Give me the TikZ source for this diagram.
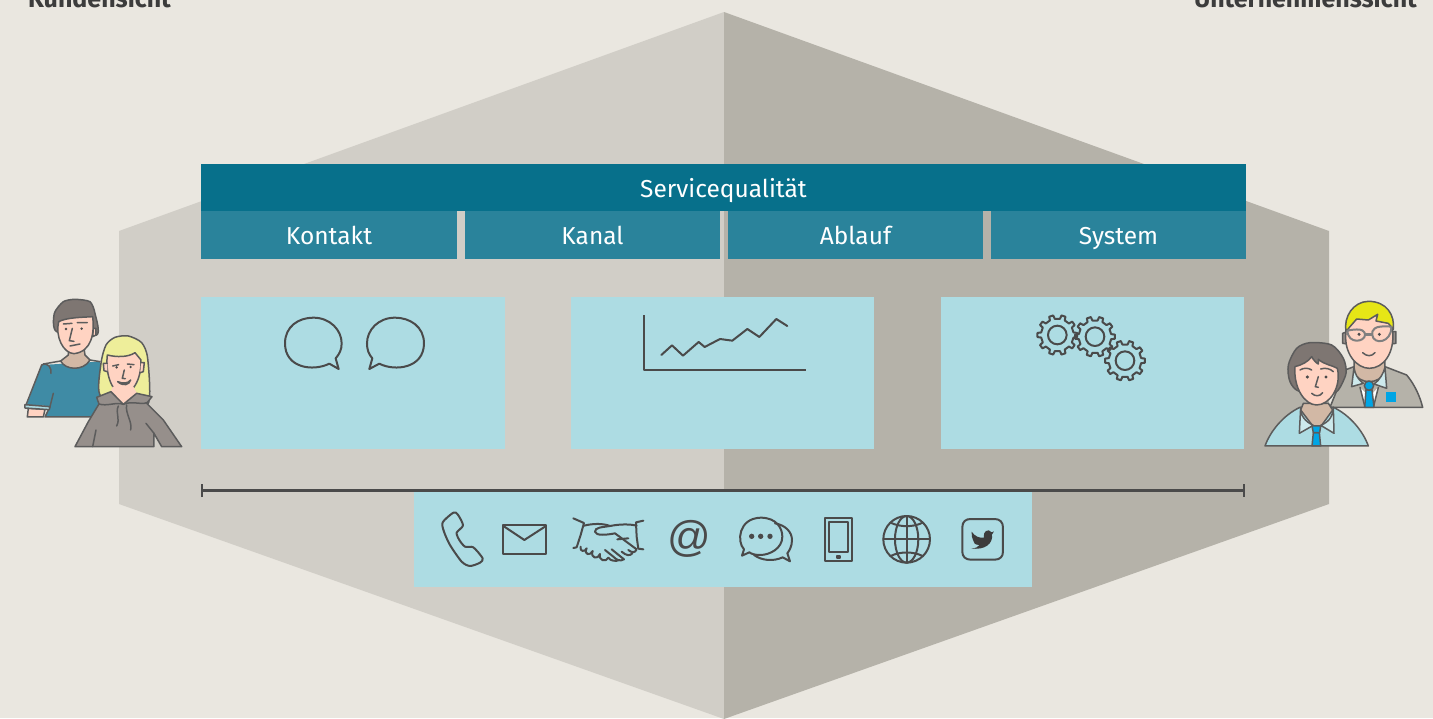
\documentclass[tikz,border=0pt]{standalone}
\usepackage{fontspec}
\setmainfont{Fira Sans}
\newfontfamily\atfont{Liberation Sans}
\usetikzlibrary{arrows.meta}
\definecolor{bgc}{HTML}{EAE7E0}
\definecolor{leftc}{HTML}{D1CEC7}
\definecolor{rightc}{HTML}{B5B2A9}
\definecolor{topc}{HTML}{07708B}
\definecolor{subc}{HTML}{2A839B}
\definecolor{panelc}{HTML}{ADDCE3}
\definecolor{inkc}{HTML}{4A4A4A}
\definecolor{headc}{HTML}{3C3C3C}
\definecolor{tealc}{HTML}{3F8BA5}
\definecolor{paley}{HTML}{EEEE9A}
\definecolor{hoodc}{HTML}{968F8B}
\definecolor{skinc}{HTML}{FFD3C2}
\definecolor{neckc}{HTML}{D2B8A5}
\definecolor{hairg}{HTML}{7E7672}
\definecolor{yelc}{HTML}{E6E616}
\definecolor{tiec}{HTML}{00A5E5}
\definecolor{collc}{HTML}{CDE9EC}
\tikzset{
  box/.style={inner sep=0pt,outer sep=0pt,text=white,text height=19.5pt,text depth=0pt,font=\fontsize{24.5}{24.5}\selectfont},
  topbox/.style={box,fill=topc},
  subbox/.style={box,fill=subc},
  panel/.style={inner sep=0pt,outer sep=0pt,fill=panelc},
  heading/.style={inner sep=0pt,text=headc,font=\fontsize{25}{25}\selectfont\bfseries},
  ico/.style={draw=inkc,line width=2pt,line join=round,line cap=round},
  per/.style={draw=inkc!90,line width=1.5pt,line join=round,line cap=round},
  zoomA/.style={shift={(#1)},x=0.3333pt,y=-0.3333pt},
}
\newcommand{\gearshape}[5]{%
 \draw[ico,shift={(#1,#2)}] (-9:#3) foreach \i in {0,36,...,324}{
   -- (\i-9:#3) -- (\i-6:#4) -- (\i+6:#4) -- (\i+9:#3) } -- cycle;
 \draw[ico] (#1,#2) circle (#5);}
\begin{document}
\begin{tikzpicture}[x=1pt,y=-1pt]
\useasboundingbox (0,0) rectangle (1433,718);
\clip (0,0) rectangle (1433,718);
\fill[bgc] (0,0) rectangle (1433,718);
\fill[leftc] (724,12) -- (119,231) -- (119,504) -- (724,719) -- cycle;
\fill[rightc] (724,12) -- (1329,231) -- (1329,504) -- (724,719) -- cycle;

\node[heading,anchor=base west] (kunden) at (28,7.5) {Kundensicht};
\node[heading,anchor=base east] (unter) at (1417,7.5) {Unternehmenssicht};

\node[topbox,minimum width=1045pt,minimum height=47pt] (sq) at (723.5,187.5) {Servicequalität};
\node[subbox,minimum width=256pt,minimum height=48pt] (kontakt) at (329,235) {Kontakt};
\node[subbox,minimum width=255pt,minimum height=48pt] (kanal) at (592.5,235) {Kanal};
\node[subbox,minimum width=255pt,minimum height=48pt] (ablauf) at (855.5,235) {Ablauf};
\node[subbox,minimum width=255pt,minimum height=48pt] (system) at (1118.5,235) {System};

\node[panel,minimum width=304pt,minimum height=152pt] (p1) at (353,373) {};
\node[panel,minimum width=303pt,minimum height=152pt] (p2) at (722.5,373) {};
\node[panel,minimum width=303pt,minimum height=152pt] (p3) at (1092.5,373) {};
\node[panel,minimum width=618pt,minimum height=95pt] (p4) at (723,539.5) {};

\coordinate (barl) at (201,490.5);
\coordinate (barr) at (1245,490.5);
\draw[draw=inkc,line width=3pt,{Bar[width=13pt,line width=2pt]}-{Bar[width=13pt,line width=2pt]}] (barl) -- (barr);

% speech bubbles
\begin{scope}[zoomA={270,300}]
\draw[ico] (178,191) .. controls (130,215) and (45,205) .. (45,130) .. controls (45,80) and (85,53) .. (130,53) .. controls (180,53) and (215,90) .. (215,130) .. controls (215,150) and (208,162) .. (197,175) -- (206,207) -- cycle;
\draw[ico] (328,191) .. controls (375,215) and (462,205) .. (462,130) .. controls (462,80) and (420,53) .. (375,53) .. controls (325,53) and (291,90) .. (291,130) .. controls (291,150) and (296,162) .. (307,175) -- (298,207) -- cycle;
\end{scope}
% chart
\begin{scope}[zoomA={630,300}]
\draw[ico,line cap=butt] (41,45) -- (41,211) -- (527,211);
\draw[ico] (94,165) -- (126,136) -- (159,167) -- (206,126) -- (224,141) -- (270,117) -- (307,122) -- (352,87) -- (388,111) -- (439,57) -- (472,78);
\end{scope}
% gears
\begin{scope}[zoomA={1025,305}]
\gearshape{97}{90}{49}{60}{28}
\gearshape{210}{95}{49}{60}{28}
\gearshape{300}{167}{49}{60}{28}
\end{scope}

% channel icons, left half
\begin{scope}[zoomA={420,490}]
\draw[ico] plot[smooth cycle,tension=0.45] coordinates {(68,97) (100,68) (113,73) (129,106) (110,128) (118,150) (135,170) (160,172) (188,205) (180,218) (150,228) (125,215) (90,165) (72,125)};
\draw[ico,line cap=butt] (250,105) rectangle (378,192);
\draw[ico] (250,108) -- (313,150) -- (378,108);
% handshake
\draw[ico] (460,85) -- (492,99) -- (482,135) -- (470,172) -- (460,174);
\draw[ico] (670,92) -- (648,97) -- (650,140) -- (655,176) -- (670,178);
\draw[ico] (492,107) .. controls (520,100) and (550,100) .. (570,108) .. controls (600,102) and (630,102) .. (650,107);
\draw[ico] (570,108) .. controls (545,112) and (525,112) .. (525,125) .. controls (527,138) and (560,135) .. (585,130) -- (650,178) .. controls (645,190) and (635,188) .. (625,180);
\draw[ico] (637,190) .. controls (630,198) and (620,198) .. (605,185) (575,178) -- (612,208) .. controls (600,215) and (590,210) .. (580,200) -- (555,180);
\draw[ico] (592,148) -- (625,145);
\draw[ico] (482,170) .. controls (478,185) and (495,187) .. (500,175) .. controls (490,195) and (512,198) .. (518,183) .. controls (510,205) and (535,210) .. (540,192) .. controls (535,212) and (558,218) .. (565,203) .. controls (570,213) and (590,215) .. (597,210);
\node[inner sep=0pt,text=inkc,font=\atfont\fontsize{43}{43}\selectfont] (at) at (808,147) {@};
\end{scope}
% channel icons, right half
\begin{scope}[zoomA={720,490}]
\draw[ico] (66,197) -- (72,178) .. controls (50,155) and (55,85) .. (122,83) .. controls (170,83) and (187,115) .. (187,140) .. controls (187,175) and (150,195) .. (120,195) .. controls (105,195) and (95,192) .. (88,187) -- cycle;
\draw[ico] (165,100) .. controls (195,105) and (216,125) .. (216,150) .. controls (216,170) and (207,183) .. (202,190) -- (210,214) -- (188,202) .. controls (160,215) and (125,212) .. (102,195);
\fill[inkc] (95,139) circle (8) (122,139) circle (8) (150,139) circle (8);
\draw[ico,line cap=butt] (314,83) rectangle (397,213);
\draw[ico,line cap=butt] (328,97) rectangle (384,187);
\draw[ico,line cap=butt] (350,197) rectangle (360,205);
\draw[ico] (560,148) circle (70);
\draw[ico] (560,148) ellipse (35 and 70);
\draw[ico] (560,78) -- (560,218) (490,148) -- (630,148);
\draw[ico] (512,98) .. controls (540,112) and (580,112) .. (608,98);
\draw[ico] (512,198) .. controls (540,184) and (580,184) .. (608,198);
\draw[ico] (727,112) .. controls (727,95) and (737,87) .. (752,87) -- (824,87) .. controls (840,87) and (849,97) .. (849,112) -- (849,185) .. controls (849,200) and (840,209) .. (824,209) -- (752,209) .. controls (737,209) and (727,200) .. (727,185) -- cycle;
\fill[headc] (755,125) .. controls (765,140) and (780,145) .. (792,143) .. controls (787,125) and (805,113) .. (815,127) -- (822,124) -- (816,134) .. controls (820,160) and (795,182) .. (753,175) .. controls (770,175) and (775,170) .. (778,165) .. controls (765,165) and (760,158) .. (760,152) .. controls (755,145) and (755,135) .. cycle;
\end{scope}

% customers
\begin{scope}[zoomA={0,280}]
% man
\fill[tealc] (125,255) -- (300,245) -- (300,410) -- (135,410) -- (150,378) -- (80,375) -- cycle;
\draw[per] (125,255) .. controls (145,245) and (155,265) .. (153,280) (160,340) -- (150,380) -- (135,411) -- (280,411);
\draw[per] (130,252) -- (182,243) (270,240) -- (300,245) (125,255) -- (78,375);
\draw[per,fill=neckc] (205,205) -- (205,225) -- (182,243) .. controls (195,270) and (250,275) .. (270,240) -- (255,225) -- (252,205) -- cycle;
\draw[per,fill=skinc] (85,385) -- (82,411) -- (130,411) -- (135,388) -- cycle;
\draw[per,fill=panelc] (75,374) -- (150,380) -- (148,389) -- (75,384) -- cycle;
\draw[per,fill=hairg] plot[smooth cycle,tension=0.4] coordinates {(163,100) (190,65) (225,58) (270,65) (285,100) (290,165) (170,155)};
\draw[per,fill=skinc] (280,145) -- (288,145) -- (288,165) -- (278,170) -- cycle;
\draw[per,fill=skinc] (176,125) .. controls (200,112) and (250,112) .. (278,110) .. controls (284,160) and (275,215) .. (222,221) .. controls (190,220) and (165,170) .. (176,125) -- cycle;
\draw[per] (190,132) -- (216,130) (232,128) -- (262,128) (217,145) -- (208,182) -- (222,184) (210,198) -- (240,192);
\fill[inkc] (198,147) circle (4) (245,146) circle (4);
% woman
\draw[per,fill=paley] plot[smooth cycle,tension=0.45] coordinates {(300,345) (303,250) (318,195) (345,172) (385,168) (425,188) (443,235) (446,368) (380,380)};
\draw[per,fill=skinc] (322,225) .. controls (350,232) and (385,232) .. (405,218) -- (423,240) .. controls (425,300) and (395,345) .. (368,342) .. controls (340,340) and (315,290) .. (322,225) -- cycle;
\draw[per,fill=skinc] (322,250) -- (310,250) -- (312,272) -- (322,275) (423,248) -- (433,248) -- (430,275) -- (421,278);
\fill[skinc] (338,320) -- (330,338) -- (370,376) -- (412,342) -- (400,320) -- cycle;
\draw[per,fill=hoodc] (225,500) -- (265,425) -- (297,372) -- (290,352) -- (333,335) -- (370,373) -- (410,340) -- (456,350) -- (440,370) -- (490,420) -- (545,500) -- (485,500) -- (462,460) -- (462,500) -- cycle;
\draw[per] (297,372) .. controls (320,380) and (350,365) .. (370,373) .. controls (395,362) and (425,375) .. (440,368);
\draw[per] (355,378) .. controls (345,400) and (362,415) .. (350,438) (380,375) .. controls (375,400) and (398,425) .. (392,450) (288,450) -- (278,500) (438,430) -- (462,460);
\draw[per] (338,258) -- (356,254) (382,252) -- (402,254) (373,270) -- (367,295) -- (376,296);
\fill[inkc] (350,262) circle (4) (392,261) circle (4);
\draw[per,fill=white] (353,305) .. controls (370,312) and (385,310) .. (392,300) .. controls (388,315) and (370,320) .. (353,305) -- cycle;
\end{scope}

% staff
\begin{scope}[zoomA={1250,290}]
% man
\draw[per,fill=rightc] (240,352) -- (285,240) -- (312,230) -- (405,230) -- (470,255) .. controls (495,285) and (510,320) .. (518,352) -- cycle;
\path[fill=white] (330,292) -- (358,320) -- (385,292) -- (370,352) -- (345,352) -- cycle;
\draw[per,fill=neckc] (312,215) -- (312,245) .. controls (325,285) and (390,285) .. (405,245) -- (405,215) -- cycle;
\draw[per,fill=collc] (312,232) -- (305,290) -- (340,280) .. controls (320,265) and (315,250) .. (312,232) -- cycle;
\draw[per,fill=collc] (405,232) -- (410,295) -- (372,282) .. controls (390,270) and (400,250) .. (405,232) -- cycle;
\draw[per] (330,292) -- (345,352) (385,292) -- (370,352);
\draw[per,fill=tiec] (348,300) -- (344,352) -- (372,352) -- (366,300) -- cycle;
\draw[per,fill=tiec] (357,287) circle (14);
\fill[tiec] (408,305) rectangle (438,335);
\draw[per,fill=hoodc] (278,130) -- (292,125) -- (292,162) -- (278,160) -- cycle;
\draw[per,fill=hoodc] (438,125) -- (424,125) -- (424,162) -- (438,160) -- cycle;
\draw[per,fill=skinc] (288,125) .. controls (280,190) and (320,235) .. (358,235) .. controls (400,235) and (435,190) .. (428,120) .. controls (420,60) and (300,60) .. (288,125) -- cycle;
\draw[per,fill=yelc] (288,125) .. controls (280,80) and (310,35) .. (355,34) .. controls (410,34) and (435,75) .. (430,118) -- (415,100) -- (378,93) -- (383,73) -- (355,90) -- (320,87) -- (300,110) -- cycle;
\draw[per,line width=2pt,color=inkc!70] (292,122) .. controls (340,112) and (345,125) .. (345,135) .. controls (345,155) and (295,165) .. (292,122) -- cycle;
\draw[per,line width=2pt,color=inkc!70] (424,110) .. controls (370,105) and (365,120) .. (367,135) .. controls (370,165) and (425,160) .. (424,110) -- cycle;
\draw[inkc!70,line width=3pt] (345,132) -- (367,132);
\fill[inkc] (327,133) circle (5) (388,133) circle (5);
\draw[per] (338,188) .. controls (350,200) and (365,200) .. (375,188);
% woman
\draw[per,fill=panelc] (45,468) .. controls (60,425) and (100,375) .. (150,352) -- (250,352) .. controls (300,375) and (340,425) .. (355,468) -- cycle;
\draw[per,fill=neckc] (160,340) -- (152,360) -- (190,410) -- (212,410) -- (248,360) -- (235,340) -- cycle;
\draw[per,fill=collc] (152,352) -- (148,430) -- (190,406) .. controls (165,395) and (150,375) .. (152,352) -- cycle;
\draw[per,fill=collc] (250,352) -- (252,430) -- (212,406) .. controls (240,395) and (250,375) .. (250,352) -- cycle;
\draw[per,fill=tiec] (190,428) -- (186,468) -- (212,468) -- (208,428) -- cycle;
\draw[per,fill=tiec] (186,408) -- (212,408) -- (209,428) -- (190,428) -- cycle;
\draw[per,fill=hairg] plot[smooth cycle,tension=0.5] coordinates {(150,305) (120,275) (115,225) (140,175) (180,158) (245,165) (280,205) (288,250) (265,300) (240,310)};
\draw[per,fill=skinc] (135,230) .. controls (155,225) and (175,215) .. (185,200) .. controls (190,210) and (200,220) .. (205,222) -- (205,208) .. controls (225,225) and (245,225) .. (262,235) .. controls (275,290) and (240,345) .. (200,345) .. controls (165,345) and (130,295) .. (135,230) -- cycle;
\draw[per] (150,240) .. controls (160,233) and (175,233) .. (185,240) (212,237) .. controls (225,233) and (240,235) .. (250,245) (205,260) -- (196,290) -- (205,292) (185,310) .. controls (195,320) and (210,320) .. (218,308);
\fill[inkc] (172,261) circle (5) (228,261) circle (5);
\end{scope}
\end{tikzpicture}
\end{document}
